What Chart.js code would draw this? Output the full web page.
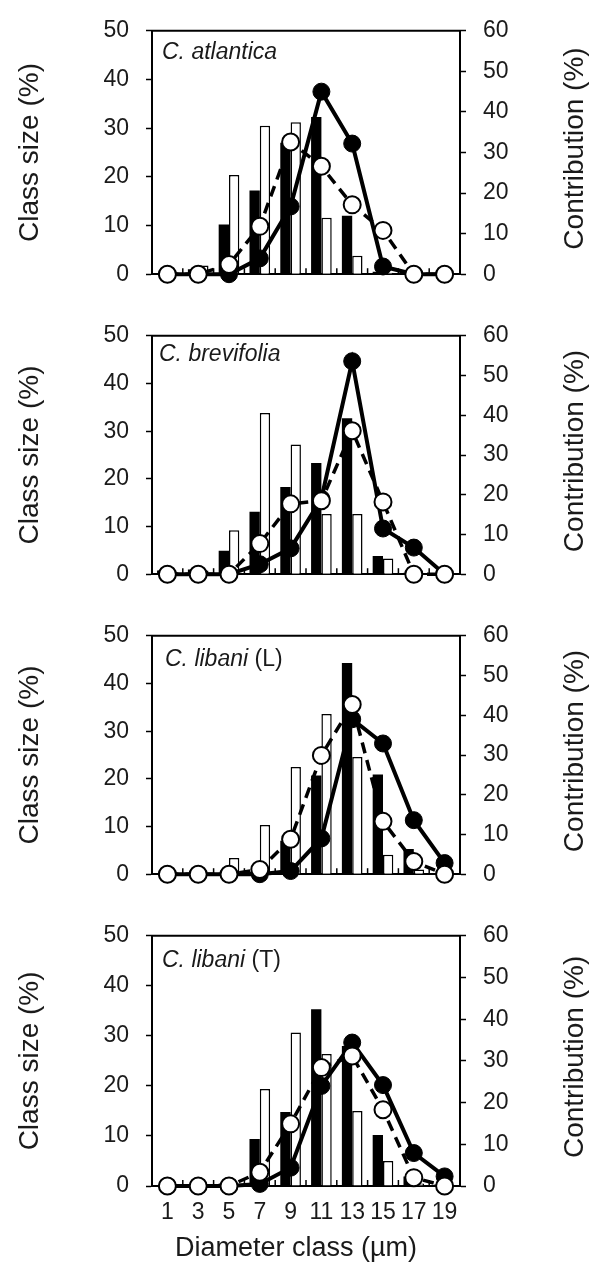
<!DOCTYPE html>
<html>
<head>
<meta charset="utf-8">
<script src="https://cdn.jsdelivr.net/npm/chart.js@4.4.1/dist/chart.umd.min.js"></script>
<style>
    body { margin: 0; background: #fff; }
    #wrap { position: relative; width: 590px; height: 1262px; }
    #wrap canvas { position: absolute; left: 0; }
</style>
</head>
<body>
<div id="wrap">
    <canvas id="panel0"></canvas>
    <canvas id="panel1"></canvas>
    <canvas id="panel2"></canvas>
    <canvas id="panel3"></canvas>
</div>
<script>
// Diameter classes (µm) - x positions and tick labels
const diameterClass = [1, 3, 5, 7, 9, 11, 13, 15, 17, 19];
const xTickValues = [1, 3, 5, 7, 9, 11, 13, 15, 17, 19];
const leftTicks = [0, 10, 20, 30, 40, 50];
const rightTicks = [0, 10, 20, 30, 40, 50, 60];

const speciesNames = ['C. atlantica', 'C. brevifolia', 'C. libani', 'C. libani'];
const speciesSuffix = ['', '', ' (L)', ' (T)'];

// Class size (%) - black bars / white bars
const atlanticaSizeBlack = [0, 1.0, 10.2, 17.2, 27.0, 32.3, 12.0, 0.5, 0, 0];
const atlanticaSizeWhite = [0, 1.8, 20.4, 30.5, 31.2, 11.6, 3.8, 0.3, 0, 0];
const brevifoliaSizeBlack = [0.8, 1.0, 4.9, 13.1, 18.3, 23.3, 32.7, 3.8, 0.3, 0];
const brevifoliaSizeWhite = [0.4, 0.8, 9.2, 33.8, 27.2, 12.6, 12.6, 3.3, 0, 0];
const libaniLSizeBlack = [0, 0, 0.3, 0.5, 7.0, 20.7, 44.3, 20.9, 5.3, 0];
const libaniLSizeWhite = [0, 0, 3.4, 10.3, 22.5, 33.6, 24.6, 4.1, 1.0, 0];
const libaniTSizeBlack = [0, 0, 0.5, 9.4, 14.8, 35.3, 28.0, 10.2, 1.9, 0.3];
const libaniTSizeWhite = [0, 0, 0, 19.4, 30.7, 26.4, 15.0, 5.0, 0.5, 0];

// Contribution (%) - filled circles / open circles
const atlanticaContribFilled = [0, 0, 0, 3.9, 16.7, 45.0, 32.2, 1.9, 0, 0];
const atlanticaContribOpen = [0, 0, 2.4, 11.8, 32.6, 26.6, 17.1, 10.8, 0, 0];
const brevifoliaContribFilled = [0, 0, 0, 2.5, 6.5, 19.0, 53.6, 11.5, 6.7, 0];
const brevifoliaContribOpen = [0, 0, 0, 7.7, 17.7, 18.5, 36.1, 18.2, 0, 0];
const libaniLContribFilled = [0, 0, 0, 0, 0.8, 9.0, 39.0, 32.9, 13.6, 2.8];
const libaniLContribOpen = [0, 0, 0, 1.2, 8.8, 29.9, 42.7, 13.3, 3.2, 0];
const libaniTContribFilled = [0, 0, 0, 0.5, 4.4, 24.0, 34.4, 24.2, 7.9, 2.3];
const libaniTContribOpen = [0, 0, 0, 3.3, 14.9, 28.4, 31.2, 18.3, 2.0, 0];

const sizeBlack = [atlanticaSizeBlack, brevifoliaSizeBlack, libaniLSizeBlack, libaniTSizeBlack];
const sizeWhite = [atlanticaSizeWhite, brevifoliaSizeWhite, libaniLSizeWhite, libaniTSizeWhite];
const contribFilled = [atlanticaContribFilled, brevifoliaContribFilled, libaniLContribFilled, libaniTContribFilled];
const contribOpen = [atlanticaContribOpen, brevifoliaContribOpen, libaniLContribOpen, libaniTContribOpen];

// Layout of the four stacked panels (canvas top, canvas height, plot top, plot bottom)
const panelLayout = [
    { top: 0, height: 305, plotTop: 21, plotBottom: 290, labelX: 162, labelDy: 28 },
    { top: 305, height: 300, plotTop: 22, plotBottom: 282, labelX: 159, labelDy: 25 },
    { top: 605, height: 300, plotTop: 22, plotBottom: 280, labelX: 165, labelDy: 30 },
    { top: 905, height: 357, plotTop: 23, plotBottom: 281, labelX: 162, labelDy: 31 }
];

const FONT = '"Liberation Sans", Arial, Helvetica, sans-serif';
const TEXT = '#1a1a1a';

function toPoints(values) {
    return diameterClass.map((d, i) => ({ x: d, y: values[i] }));
}

// Draws the frame top, inner minor ticks, species label and right title
const panelDecor = {
    id: 'panelDecor',
    afterDraw(chart, args, opts) {
        const ctx = chart.ctx;
        const area = chart.chartArea;
        const xScale = chart.scales.x;
        ctx.save();
        ctx.strokeStyle = '#000';
        ctx.lineWidth = 2;
        ctx.beginPath();
        ctx.moveTo(area.left - 1, area.top);
        ctx.lineTo(area.right + 1, area.top);
        ctx.stroke();

        // small inward ticks at even diameters
        ctx.lineWidth = 1.5;
        for (let v = 2; v <= 18; v += 2) {
            const px = xScale.getPixelForValue(v);
            ctx.beginPath();
            ctx.moveTo(px, area.bottom);
            ctx.lineTo(px, area.bottom - 6);
            ctx.stroke();
        }

        // species label
        ctx.fillStyle = TEXT;
        ctx.textBaseline = 'alphabetic';
        ctx.textAlign = 'left';
        ctx.font = 'italic 23px ' + FONT;
        ctx.fillText(opts.name, opts.labelX, area.top + opts.labelDy);
        if (opts.suffix) {
            const w = ctx.measureText(opts.name).width;
            ctx.font = '23px ' + FONT;
            ctx.fillText(opts.suffix, opts.labelX + w, area.top + opts.labelDy);
        }

        // right axis title, reading bottom to top
        ctx.font = '28px ' + FONT;
        ctx.textAlign = 'center';
        ctx.textBaseline = 'middle';
        ctx.translate(575, (area.top + area.bottom) / 2 - 4);
        ctx.rotate(-Math.PI / 2);
        ctx.fillText('Contribution (%)', 0, 0);
        ctx.restore();

        if (opts.xTitle) {
            ctx.save();
            ctx.fillStyle = TEXT;
            ctx.font = '27px ' + FONT;
            ctx.textAlign = 'center';
            ctx.textBaseline = 'alphabetic';
            ctx.fillText(opts.xTitle, 296, area.bottom + 70);
            ctx.restore();
        }
    }
};

function makePanel(i) {
    const lay = panelLayout[i];
    const canvas = document.getElementById('panel' + i);
    canvas.width = 590;
    canvas.height = lay.height;
    canvas.style.top = lay.top + 'px';
    const isLast = i === 3;

    return new Chart(canvas, {
        type: 'bar',
        data: {
            datasets: [
                {
                    type: 'line',
                    label: 'Contribution (open)',
                    data: toPoints(contribOpen[i]),
                    yAxisID: 'y2',
                    borderColor: '#000',
                    borderWidth: 3.5,
                    borderDash: [11, 7],
                    pointRadius: 8.5,
                    pointBackgroundColor: '#fff',
                    pointBorderColor: '#000',
                    pointBorderWidth: 2,
                    tension: 0,
                    clip: false,
                    order: 1
                },
                {
                    type: 'line',
                    label: 'Contribution (filled)',
                    data: toPoints(contribFilled[i]),
                    yAxisID: 'y2',
                    borderColor: '#000',
                    borderWidth: 4,
                    pointRadius: 8.5,
                    pointBackgroundColor: '#000',
                    pointBorderColor: '#000',
                    pointBorderWidth: 1,
                    tension: 0,
                    clip: false,
                    order: 2
                },
                {
                    type: 'bar',
                    label: 'Class size (black)',
                    data: toPoints(sizeBlack[i]),
                    yAxisID: 'y',
                    backgroundColor: '#000',
                    borderWidth: 0,
                    categoryPercentage: 0.67,
                    barPercentage: 1,
                    order: 3
                },
                {
                    type: 'bar',
                    label: 'Class size (white)',
                    data: toPoints(sizeWhite[i]),
                    yAxisID: 'y',
                    backgroundColor: '#fff',
                    borderColor: '#000',
                    borderWidth: 1.5,
                    categoryPercentage: 0.67,
                    barPercentage: 1,
                    order: 4
                }
            ]
        },
        options: {
            responsive: false,
            animation: false,
            devicePixelRatio: 1,
            layout: { padding: { top: lay.plotTop, left: 0, right: 0, bottom: 0 } },
            plugins: {
                legend: { display: false },
                tooltip: { enabled: false },
                panelDecor: {
                    name: speciesNames[i],
                    suffix: speciesSuffix[i],
                    labelX: lay.labelX,
                    labelDy: lay.labelDy,
                    xTitle: isLast ? 'Diameter class (µm)' : null
                }
            },
            scales: {
                x: {
                    type: 'linear',
                    min: 0,
                    max: 20,
                    offset: false,
                    afterBuildTicks: s => { s.ticks = xTickValues.map(v => ({ value: v })); },
                    ticks: {
                        display: isLast,
                        autoSkip: false,
                        maxRotation: 0,
                        padding: 13,
                        color: TEXT,
                        font: { family: FONT, size: 23 }
                    },
                    grid: { display: false, drawTicks: false },
                    border: { display: true, color: '#000', width: 2 },
                    afterFit: s => { s.height = lay.height - lay.plotBottom; }
                },
                y: {
                    position: 'left',
                    min: 0,
                    max: 50,
                    afterBuildTicks: s => { s.ticks = leftTicks.map(v => ({ value: v })); },
                    ticks: { padding: 17, color: TEXT, font: { family: FONT, size: 23 } },
                    grid: { drawOnChartArea: false, tickLength: 6, tickColor: '#000', tickWidth: 1.5 },
                    border: { display: true, color: '#000', width: 2 },
                    title: {
                        display: true,
                        text: 'Class size (%)',
                        color: TEXT,
                        font: { family: FONT, size: 28 },
                        padding: { top: 13, bottom: 0 }
                    },
                    afterFit: s => { s.width = 152; }
                },
                y2: {
                    position: 'right',
                    min: 0,
                    max: 60,
                    afterBuildTicks: s => { s.ticks = rightTicks.map(v => ({ value: v })); },
                    ticks: { padding: 17, color: TEXT, font: { family: FONT, size: 23 } },
                    grid: { drawOnChartArea: false, tickLength: 6, tickColor: '#000', tickWidth: 1.5 },
                    border: { display: true, color: '#000', width: 2 },
                    afterFit: s => { s.width = 130; }
                }
            }
        },
        plugins: [panelDecor]
    });
}

for (let i = 0; i < 4; i++) {
    makePanel(i);
}
</script>
</body>
</html>
